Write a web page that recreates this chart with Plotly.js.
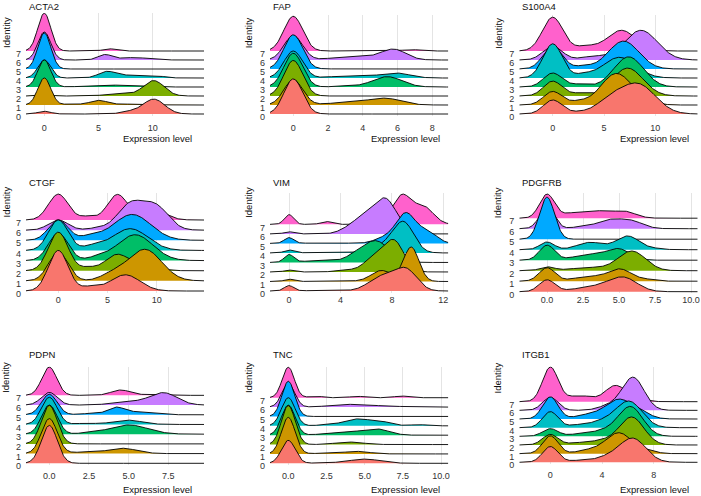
<!DOCTYPE html>
<html><head><meta charset="utf-8">
<script src="https://cdn.plot.ly/plotly-3.0.1.min.js"></script>
<style>html,body{margin:0;padding:0;background:#fff}#chart{width:701px;height:496px}</style>
</head><body><div id="chart"></div>
<script>
// ---------- data ----------
const identities = ['0','1','2','3','4','5','6','7'];
const colors = ['#F8766D','#CD9600','#7CAE00','#00BE67','#00BFC4','#00A9FF','#C77CFF','#FF61CC'];
const genes = ['ACTA2','FAP','S100A4','CTGF','VIM','PDGFRB','PDPN','TNC','ITGB1'];
// For each identity 0..7: density peaks [centre, height (in ridge spacings), spread]
const ACTA2 = [
  [[0,0.3,0.6],[10.1,1.65,1.0],[7.8,0.25,0.8]],
  [[0,3.0,0.6],[5.0,0.5,0.8],[2.5,0.1,0.8],[8,0.1,1.5]],
  [[0,0.12,0.6],[10.1,1.7,0.95],[7.0,0.25,1.3]],
  [[0,3.0,0.6],[6,0.22,1.8]],
  [[0,2.0,0.6],[5.8,0.72,0.8],[8,0.3,1.0],[10.2,0.25,0.8]],
  [[0,4.0,0.6]],
  [[0,3.1,0.6],[5.6,0.58,0.65],[8.3,0.27,1.3]],
  [[0,4.2,0.6],[6.0,0.25,0.55]]
];
const FAP = [
  [[0,3.9,0.54]],
  [[0,2.8,0.54],[5.4,0.62,0.85],[3.6,0.35,1.3]],
  [[0,3.95,0.54]],
  [[0,3.75,0.54],[5.4,1.15,0.85],[3,0.12,0.6]],
  [[0,3.0,0.54],[6,0.5,0.75],[4.3,0.22,1],[2.2,0.12,0.5]],
  [[0,3.8,0.54],[4,0.05,1]],
  [[0,2.7,0.54],[5.8,1.1,0.7],[4,0.35,1.2],[2.2,0.1,0.6]],
  [[0,3.85,0.54],[6.8,0.15,0.5]]
];
const S100A4 = [
  [[0,1.55,0.9],[8.3,3.3,1.7],[5.5,1.3,1.3],[2.5,0.2,1.0]],
  [[0,1.5,0.9],[6.2,3.5,1.5],[2.5,0.35,0.9],[9,0.4,1.0]],
  [[0,1.65,0.9],[7.3,3.1,1.5],[2.6,0.3,0.9]],
  [[0,1.55,0.9],[7.4,3.35,1.45],[2.6,0.3,0.9]],
  [[0,3.8,0.95],[6.5,2.3,1.6],[3,0.35,0.8]],
  [[0,2.5,0.95],[6.9,3.1,1.5],[3,0.3,0.8]],
  [[0,1.5,0.95],[8.6,3.3,1.6],[4,0.4,1.2]],
  [[0,3.75,1.0],[6.7,2.3,1.4],[3.2,0.5,1.0]]
];
const CTGF = [
  [[0,4.0,1.0],[6.8,1.6,1.5],[3.2,0.4,0.9]],
  [[0,2.8,1.0],[8.8,3.1,1.7],[5.5,0.6,1.2]],
  [[0,3.8,1.0],[6.0,1.6,1.2],[9.0,0.6,1.2],[3.0,0.3,0.8]],
  [[0,2.7,1.0],[7.8,2.55,1.8],[4.0,0.3,1.0]],
  [[0,3.0,1.0],[7.3,2.15,1.8],[3.5,0.4,1.0]],
  [[0,2.0,1.0],[7.5,2.55,1.9],[3.3,0.4,1.0]],
  [[0,1.0,1.0],[7.3,2.5,1.3],[9.9,2.3,1.3],[4.0,0.2,1.0]],
  [[0,2.55,1.0],[6.0,2.5,1.0],[9.5,1.0,1.3],[3.0,0.35,0.8]]
];
const VIM = [
  [[0,0.56,0.37],[9.1,2.2,0.85],[7.2,1.5,1.0],[3,0.06,1.5]],
  [[0,0.24,0.36],[9.5,3.6,0.6],[7.2,1.15,0.8],[4,0.05,1.5]],
  [[0,0.2,0.36],[8.2,3.1,0.75],[6.7,1.6,0.8],[4.5,0.2,0.8]],
  [[0,0.8,0.37],[6.8,2.2,1.0],[5.2,0.6,0.8],[2.5,0.2,1.3]],
  [[0,0.3,0.36],[8.9,3.2,0.8],[7.4,0.7,0.8],[3,0.05,1.5]],
  [[0,0.6,0.37],[9.1,3.1,0.75],[10.8,1.2,0.7],[7.5,0.6,0.8],[3,0.05,1.5]],
  [[0,0.22,0.37],[7.6,2.8,0.7],[6.2,2.2,1.0],[4.5,0.3,0.7],[8.6,0.6,0.5]],
  [[0,1.02,0.36],[2.9,0.3,0.42],[8.8,2.8,0.65],[10.4,1.9,0.8],[7.5,0.6,0.7]]
];
const PDGFRB = [
  [[0,1.12,0.55],[5.3,1.35,0.95],[2.5,0.3,1.0],[3.8,0.3,0.8]],
  [[0,1.27,0.55],[5.1,1.1,0.8],[3.0,0.45,1.1],[7.0,0.15,0.6]],
  [[0,0.35,0.5],[5.9,1.85,0.95],[3.0,0.3,1.3]],
  [[0,1.42,0.53],[5.0,1.0,0.8],[3.0,0.55,1.1]],
  [[0,0.73,0.5],[3.0,0.7,0.9],[5.6,1.3,0.8],[7.5,0.1,0.6]],
  [[0,4.0,0.52]],
  [[0,2.0,0.52],[4.3,0.8,0.9],[5.9,0.65,0.8],[2.3,0.15,0.6]],
  [[0,2.25,0.52],[3.3,0.72,1.4],[5.5,0.45,0.7],[1.5,0.15,0.5]]
];
const PDPN = [
  [[0,3.9,0.5]],
  [[0,3.6,0.5],[4.6,0.55,0.9],[2.2,0.15,0.8]],
  [[0,3.95,0.5]],
  [[0,3.0,0.5],[5.0,0.95,1.2],[2.5,0.12,0.6]],
  [[0,2.8,0.5],[4.9,0.45,0.9],[2.3,0.12,0.6]],
  [[0,2.1,0.5],[4.2,0.75,0.55],[5.8,0.3,0.8],[2.5,0.12,0.6]],
  [[0,1.3,0.5],[7.2,1.25,0.85],[5,0.35,1.0]],
  [[0,2.9,0.47],[4.5,0.55,0.6],[6.5,0.1,0.6]]
];
const TNC = [
  [[0,2.45,0.45],[5,0.45,1.0],[2.5,0.05,0.8]],
  [[0,3.9,0.45],[4.5,0.27,0.8],[2.5,0.08,0.8]],
  [[0,4.15,0.45],[4,0.27,0.9]],
  [[0,3.2,0.45],[5.8,0.65,0.8],[4,0.33,0.8],[2.2,0.1,0.6]],
  [[0,3.0,0.45],[4.4,0.7,0.8],[6,0.45,0.7],[8.5,0.13,0.5],[2.5,0.1,0.6]],
  [[0,3.75,0.42],[7.5,0.08,0.5]],
  [[0,2.5,0.42],[3.7,0.28,1.0],[5.5,0.15,0.8],[7.5,0.06,0.5]],
  [[0,3.25,0.4],[1.8,0.18,0.4],[4.5,0.15,0.45],[7.4,0.18,0.45]]
];
const ITGB1 = [
  [[0,1.82,0.6],[6.4,2.7,1.0],[4.5,0.6,1.0],[2.2,0.2,0.8]],
  [[0,2.05,0.6],[5.3,2.4,1.0],[3,0.4,0.9],[7.5,0.3,0.7]],
  [[0,1.22,0.6],[6.3,3.2,0.95],[4,0.5,1.0],[2,0.2,0.7]],
  [[0,0.88,0.6],[6.2,3.4,0.95],[4,0.6,1.0],[2,0.2,0.7]],
  [[0,1.85,0.6],[6.1,3.0,1.0],[4,0.7,1.0],[2,0.25,0.7]],
  [[0,2.55,0.6],[5.3,2.2,1.0],[3,0.5,1.0],[7,0.6,0.8]],
  [[0,1.5,0.6],[6.4,3.8,0.85],[4.5,0.5,0.8]],
  [[0,3.95,0.6],[5.0,1.8,0.75],[2.3,0.7,1.0],[6.5,0.6,0.7]]
];
const tickVals = {
  ACTA2:[0,5,10], FAP:[0,2,4,6,8], S100A4:[0,5,10], CTGF:[0,5,10], VIM:[0,4,8,12],
  PDGFRB:[0,2.5,5,7.5,10], PDPN:[0,2.5,5,7.5], TNC:[0,2.5,5,7.5,10], ITGB1:[0,4,8]
};
const tickText = {
  ACTA2:['0','5','10'], FAP:['0','2','4','6','8'], S100A4:['0','5','10'], CTGF:['0','5','10'],
  VIM:['0','4','8','12'], PDGFRB:['0.0','2.5','5.0','7.5','10.0'], PDPN:['0.0','2.5','5.0','7.5'],
  TNC:['0.0','2.5','5.0','7.5','10.0'], ITGB1:['0','4','8']
};
const peaksOf = {ACTA2, FAP, S100A4, CTGF, VIM, PDGFRB, PDPN, TNC, ITGB1};
const xTitle = 'Expression level';
const yTitle = 'Identity';

// ---------- layout geometry (pixels) ----------
const W = 701, H = 496;
const cols = [
  {left:26, right:204, ylab:6, xtitleRight:194},
  {left:270, right:448.3, ylab:248.3, xtitleRight:441.7},
  {left:519.3, right:697.7, ylab:497.7, xtitleRight:691}
];
const rows = [
  {titleY:6.3, ylabY:33, xtitleY:138, standoff:5},
  {titleY:182, ylabY:202.5, xtitleY:null, standoff:3.5},
  {titleY:354.5, ylabY:377.8, xtitleY:489.3, standoff:4}
];
// per panel: pixel of x=0, px per unit, baseline-0 pixel, spacing px, top pixel
const geo = {
  ACTA2:{px0:44.3, sc:10.84, y0:114, s:9, top:13},
  FAP:{px0:293.3, sc:17.375, y0:114, s:9, top:15},
  S100A4:{px0:552.7, sc:10.26, y0:114, s:9, top:15},
  CTGF:{px0:58.3, sc:9.84, y0:291, s:10.14, top:193},
  VIM:{px0:289, sc:12.86, y0:291, s:9.52, top:193},
  PDGFRB:{px0:547, sc:14.4, y0:291.7, s:10.5, top:193},
  PDPN:{px0:49.3, sc:15.87, y0:463.3, s:9.71, top:366.5},
  TNC:{px0:288.3, sc:15.27, y0:463.3, s:9.37, top:366.5},
  ITGB1:{px0:550.3, sc:12.925, y0:462.3, s:8.66, top:366.5}
};

function dens(peaks, x){
  let y = 0;
  for (const [c,h,w] of peaks) y += h*Math.exp(-0.5*((x-c)/w)**2);
  return y;
}

const FONT = 'Liberation Sans, Arial, Helvetica, sans-serif';
const traces = [];
const layout = {
  width:W, height:H, margin:{l:0,r:0,t:0,b:0},
  paper_bgcolor:'#fff', plot_bgcolor:'#fff', showlegend:false,
  font:{family:FONT, size:9, color:'#333'},
  annotations:[]
};

genes.forEach((g, i) => {
  const c = cols[i%3], r = rows[Math.floor(i/3)], p = geo[g];
  const sfx = i===0 ? '' : String(i+1);
  const xr = [(c.left-p.px0)/p.sc, (c.right-p.px0)/p.sc];
  const yBot = p.y0 + 1.5;
  const yr = [-(yBot-p.y0)/p.s, (p.y0-p.top)/p.s];
  const N = 320;
  const xs = [];
  for (let j=0;j<N;j++) xs.push(xr[0] + (xr[1]-xr[0])*j/(N-1));
  const peaks = peaksOf[g];
  for (let k=identities.length-1; k>=0; k--) {
    const ys = xs.map(x => k + dens(peaks[k], x));
    const base = xs.map(() => k);
    traces.push({
      type:'scatter', mode:'lines', xaxis:'x'+sfx, yaxis:'y'+sfx,
      x: xs.concat(xs.slice().reverse()), y: ys.concat(base),
      fill:'toself', fillcolor:colors[k], line:{width:0}, hoverinfo:'skip'
    });
    traces.push({
      type:'scatter', mode:'lines', xaxis:'x'+sfx, yaxis:'y'+sfx,
      x: xs, y: ys, line:{color:'#000', width:0.9}, hoverinfo:'skip'
    });
  }
  layout['xaxis'+sfx] = {
    domain:[c.left/W, c.right/W], range:xr, anchor:'y'+sfx,
    tickvals:tickVals[g], ticktext:tickText[g], ticks:'',
    showgrid:true, gridcolor:'#e4e4e4', gridwidth:1, zeroline:false, showline:false,
    tickfont:{family:FONT, size:9, color:'#333'}, ticklabelstandoff:r.standoff
  };
  layout['yaxis'+sfx] = {
    domain:[1-yBot/H, 1-p.top/H], range:yr, anchor:'x'+sfx,
    tickvals:identities.map((_,k)=>k), ticktext:identities, ticks:'',
    showgrid:false, zeroline:false, showline:false,
    tickfont:{family:FONT, size:9, color:'#333'}, ticklabelshift:3, ticklabelstandoff:4
  };
  layout.annotations.push({
    text:g, xref:'paper', yref:'paper', x:(c.left+0.5)/W, y:1-r.titleY/H,
    xanchor:'left', yanchor:'middle', showarrow:false,
    font:{family:FONT, size:9.5, color:'#111'}
  });
  layout.annotations.push({
    text:yTitle, xref:'paper', yref:'paper', x:c.ylab/W, y:1-r.ylabY/H,
    xanchor:'center', yanchor:'middle', textangle:-90, showarrow:false,
    font:{family:FONT, size:9.5, color:'#111'}
  });
  if (r.xtitleY !== null) {
    layout.annotations.push({
      text:xTitle, xref:'paper', yref:'paper', x:c.xtitleRight/W, y:1-r.xtitleY/H,
      xanchor:'right', yanchor:'middle', showarrow:false,
      font:{family:FONT, size:9.5, color:'#111'}
    });
  }
});

Plotly.newPlot('chart', traces, layout, {displayModeBar:false, staticPlot:true});
</script></body></html>
